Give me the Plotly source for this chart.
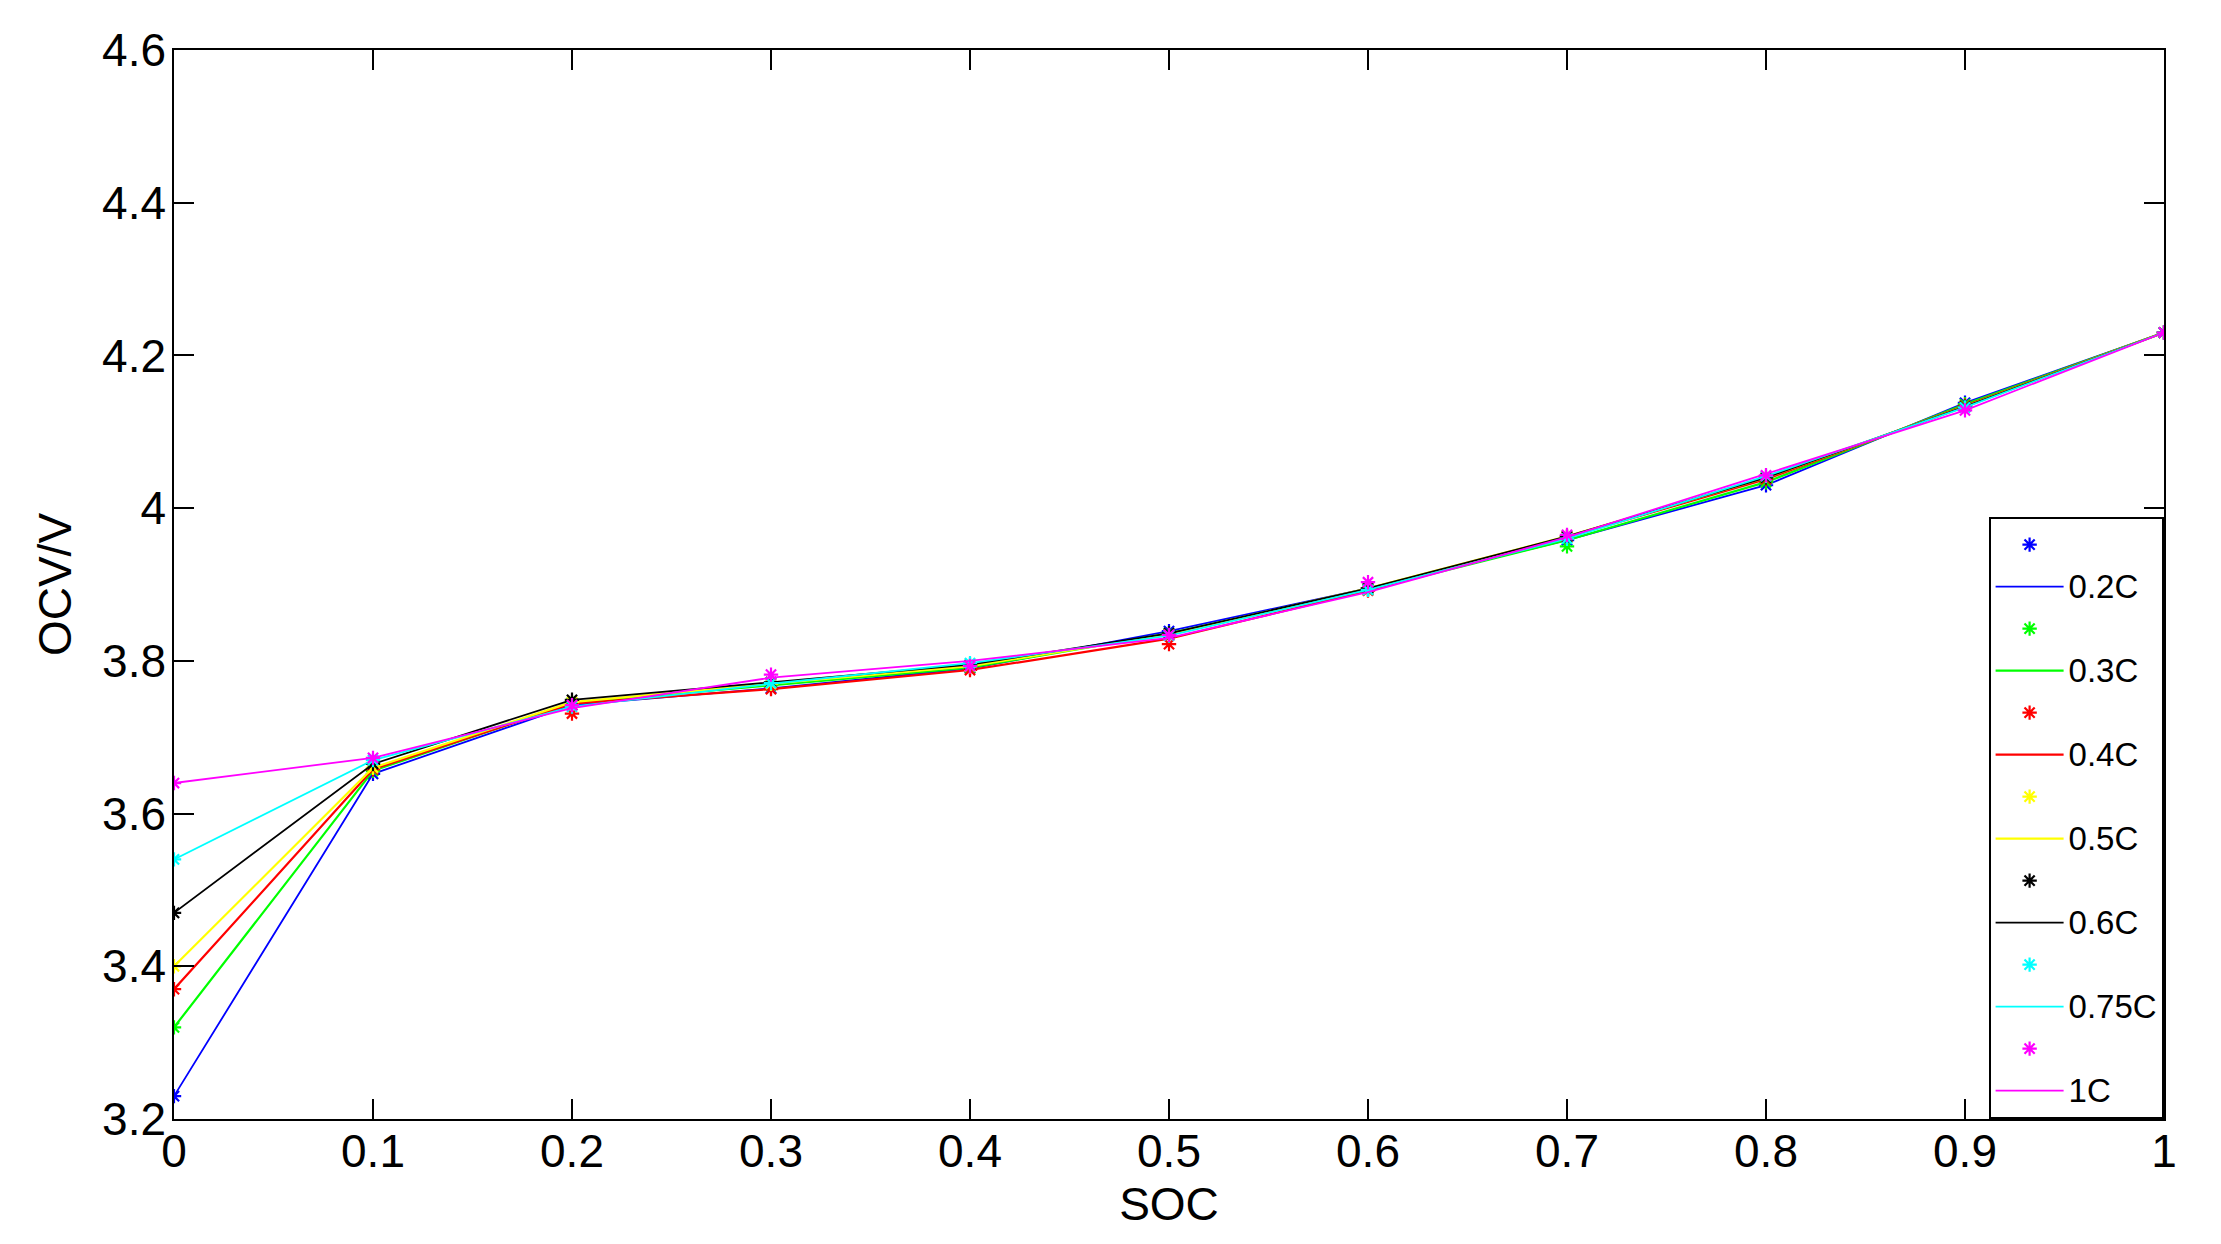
import plotly.graph_objects as go

soc = [0, 0.1, 0.2, 0.3, 0.4, 0.5, 0.6, 0.7, 0.8, 0.9, 1.0]

rates = ["0.2C", "0.3C", "0.4C", "0.5C", "0.6C", "0.75C", "1C"]
colors = ["#0000FF", "#00FF00", "#FF0000", "#FFFF00", "#000000", "#00FFFF", "#FF00FF"]

# fitted curves (lines)
line_02 = [3.23, 3.652, 3.742, 3.764, 3.790, 3.839, 3.895, 3.958, 4.030, 4.138, 4.230]
line_03 = [3.32, 3.656, 3.745, 3.768, 3.791, 3.836, 3.893, 3.958, 4.034, 4.136, 4.230]
line_04 = [3.37, 3.658, 3.744, 3.763, 3.788, 3.829, 3.892, 3.962, 4.038, 4.134, 4.230]
line_05 = [3.40, 3.660, 3.746, 3.770, 3.793, 3.835, 3.895, 3.963, 4.040, 4.133, 4.230]
line_06 = [3.47, 3.665, 3.749, 3.772, 3.795, 3.836, 3.895, 3.963, 4.040, 4.133, 4.230]
line_075 = [3.54, 3.670, 3.740, 3.770, 3.797, 3.833, 3.893, 3.960, 4.042, 4.132, 4.230]
line_1 = [3.64, 3.673, 3.738, 3.778, 3.800, 3.830, 3.890, 3.962, 4.045, 4.128, 4.230]

# measured points (markers)
pts_02 = [3.23, 3.652, 3.742, 3.764, 3.790, 3.839, 3.895, 3.958, 4.030, 4.138, 4.230]
pts_03 = [3.32, 3.656, 3.745, 3.768, 3.791, 3.836, 3.893, 3.950, 4.034, 4.136, 4.230]
pts_04 = [3.37, 3.658, 3.731, 3.763, 3.788, 3.822, 3.892, 3.962, 4.038, 4.134, 4.230]
pts_05 = [3.40, 3.660, 3.746, 3.770, 3.793, 3.835, 3.895, 3.963, 4.040, 4.133, 4.230]
pts_06 = [3.47, 3.665, 3.749, 3.772, 3.795, 3.836, 3.895, 3.963, 4.040, 4.133, 4.230]
pts_075 = [3.54, 3.670, 3.740, 3.771, 3.797, 3.833, 3.893, 3.960, 4.042, 4.132, 4.230]
pts_1 = [3.64, 3.673, 3.742, 3.782, 3.793, 3.834, 3.903, 3.965, 4.043, 4.128, 4.230]

lines = [line_02, line_03, line_04, line_05, line_06, line_075, line_1]
points = [pts_02, pts_03, pts_04, pts_05, pts_06, pts_075, pts_1]
widths = [1.8, 2.2, 2.2, 2.2, 1.8, 1.8, 1.8]

yticks = [3.2, 3.4, 3.6, 3.8, 4.0, 4.2, 4.4, 4.6]
yticklabels = ["3.2", "3.4", "3.6", "3.8", "4", "4.2", "4.4", "4.6"]
xticklabels = ["0", "0.1", "0.2", "0.3", "0.4", "0.5", "0.6", "0.7", "0.8", "0.9", "1"]

FONT = "Liberation Sans, Arial, sans-serif"

fig = go.Figure()
for name, col, ln, pt, w in zip(rates, colors, lines, points, widths):
    fig.add_trace(go.Scatter(
        x=soc, y=pt, mode="markers", name=" ",
        marker=dict(symbol="asterisk-open", size=12, color=col,
                    line=dict(color=col, width=2.2)),
    ))
    fig.add_trace(go.Scatter(
        x=soc, y=ln, mode="lines",
        name='<span style="font-size:33px">%s</span>' % name,
        line=dict(color=col, width=w),
    ))

axis_common = dict(
    showline=True, linecolor="black", linewidth=1.6, mirror="ticks",
    ticks="inside", ticklen=20, tickwidth=1.6, tickcolor="black",
    showgrid=False, zeroline=False,
    tickfont=dict(family=FONT, size=46, color="black"),
)

fig.update_xaxes(
    range=[0, 1], tickmode="array", tickvals=soc, ticktext=xticklabels,
    ticklabelstandoff=-9,
    title=dict(text="SOC", font=dict(family=FONT, size=46, color="black"), standoff=12),
    **axis_common,
)
fig.update_yaxes(
    range=[3.2, 4.6], tickmode="array", tickvals=yticks, ticktext=yticklabels,
    ticklabelstandoff=-3,
    title=dict(text="OCV/V", font=dict(family=FONT, size=46, color="black"), standoff=16),
    **axis_common,
)

fig.update_layout(
    width=2205, height=1228,
    margin=dict(l=166, r=49, t=42, b=117),
    paper_bgcolor="white", plot_bgcolor="white",
    showlegend=True,
    legend=dict(
        x=1, y=0, xanchor="right", yanchor="bottom",
        bgcolor="white", bordercolor="black", borderwidth=1.6,
        font=dict(family=FONT, size=30, color="black"),
        tracegroupgap=0, itemwidth=68,
    ),
)

fig.write_html("out.html")
